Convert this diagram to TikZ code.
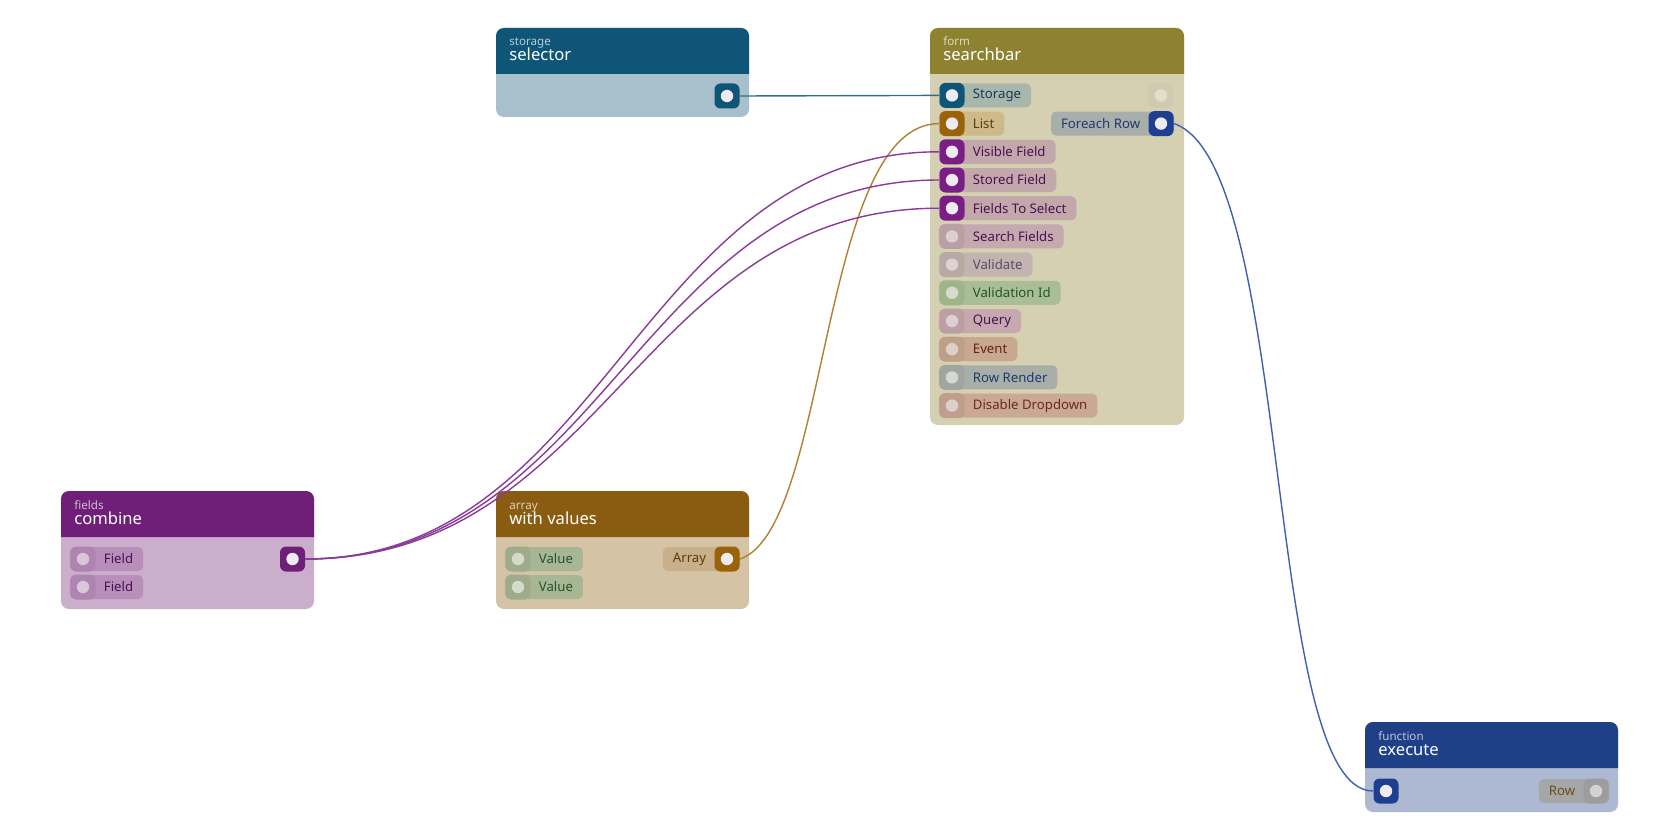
\documentclass[tikz,border=0pt]{standalone}
\usepackage{fontspec}
\setmainfont{Noto Sans}
\usetikzlibrary{positioning}
\definecolor{selhead}{HTML}{0E5578}\definecolor{selbody}{HTML}{A8BFCC}
\definecolor{formhead}{HTML}{8E8231}\definecolor{formbody}{HTML}{D5D0B1}
\definecolor{fldhead}{HTML}{6F1F78}\definecolor{fldbody}{HTML}{CBAECB}
\definecolor{arrhead}{HTML}{8A5C11}\definecolor{arrbody}{HTML}{D4C4A5}
\definecolor{funhead}{HTML}{1F3F87}\definecolor{funbody}{HTML}{ADB9D3}
\definecolor{pblue}{HTML}{0E5578}\definecolor{pgold}{HTML}{9A6209}
\definecolor{ppurple}{HTML}{7A1E85}\definecolor{pnavy}{HTML}{1E3F91}
\definecolor{dotc}{HTML}{F0EAF2}
\definecolor{wblue}{HTML}{2E6E90}\definecolor{wgold}{HTML}{B08030}
\definecolor{wpurple}{HTML}{8A3A98}\definecolor{wnavy}{HTML}{3F5FB0}
\tikzset{
  port/.style args={#1 and #2}{fill=#1, minimum size=12.5pt, inner sep=0pt,
    rounded corners=3pt, path picture={\fill[#2] (path picture bounding box.center) circle (3.1pt);}},
  pill/.style={minimum height=12pt, inner xsep=5pt, inner ysep=0pt, rounded corners=2.5pt,
    font=\fontsize{6.6}{7}\selectfont},
  wire/.style={#1, line width=0.7pt},
  cat/.style={anchor=base west, inner sep=0pt, font=\fontsize{5.8}{7}\selectfont},
  title/.style={anchor=base west, inner sep=0pt, text=white, font=\fontsize{8.3}{9}\selectfont},
}
% block: name, x1, y1, x2, y2, header bottom, head colour, body colour, category
\newcommand\block[9]{%
  \fill[#8, rounded corners=4pt] (#2,#3) rectangle (#4,#5);
  \fill[#7] (#2,#6) [rounded corners=4pt] -- (#2,#3) -- (#4,#3) [sharp corners] -- (#4,#6) -- cycle;
  \node[cat, text=white!70!#7] (#1-cat) at (#2+13,#3+18) {#9};
}
% pins: name, x, y, label, pill, text, port, dot (hex)
\newcommand\inpin[8]{%
  \definecolor{pinP}{HTML}{#5}\definecolor{pinT}{HTML}{#6}%
  \definecolor{pinC}{HTML}{#7}\definecolor{pinD}{HTML}{#8}%
  \node[pill, fill=pinP, text=pinT, anchor=west] (#1-pill) at (#2-13.5,#3) {\rule{12pt}{0pt}#4};
  \node[port={pinC and pinD}] (#1) at (#2,#3) {};
}
\newcommand\outpin[8]{%
  \definecolor{pinP}{HTML}{#5}\definecolor{pinT}{HTML}{#6}%
  \definecolor{pinC}{HTML}{#7}\definecolor{pinD}{HTML}{#8}%
  \node[pill, fill=pinP, text=pinT, anchor=east] (#1-pill) at (#2+13.5,#3) {#4\rule{12pt}{0pt}};
  \node[port={pinC and pinD}] (#1) at (#2,#3) {};
}
\begin{document}
\begin{tikzpicture}[x=0.5pt,y=-0.5pt]
\useasboundingbox (0,0) rectangle (1680,840);

\block{sel}{496}{28}{749}{117}{74}{selhead}{selbody}{storage}
\node[title] at (509,61) {selector};
\node[port={pblue and dotc}] (sel-out) at (727,96) {};

\block{sb}{930}{28}{1184}{425}{74}{formhead}{formbody}{form}
\node[title] at (943,61) {searchbar};
\inpin{sb-storage}{952}{95.4}{Storage}{A9B6AC}{153B54}{0E5578}{F0EAF2}
\inpin{sb-list}{952}{123.6}{List}{CDB98A}{5A3D0D}{9A6209}{F0EAF2}
\inpin{sb-visible}{952}{151.8}{Visible Field}{C3A8AB}{4A1055}{7A1E85}{F0EAF2}
\inpin{sb-stored}{952}{180}{Stored Field}{C3A8AB}{4A1055}{7A1E85}{F0EAF2}
\inpin{sb-select}{952}{208.2}{Fields To Select}{C3A8AB}{4A1055}{7A1E85}{F0EAF2}
\inpin{sb-search}{952}{236.4}{Search Fields}{C4AAAF}{4A1055}{BA9FA5}{DCCFD2}
\inpin{sb-validate}{952}{264.6}{Validate}{C2B4AE}{5C4A6E}{B8A9A4}{DCD2D0}
\inpin{sb-valid}{952}{292.8}{Validation Id}{A9BE94}{21562A}{9FB48B}{D5DCCB}
\inpin{sb-query}{952}{321}{Query}{C6A9AE}{4A1055}{BC9FA5}{DDD0D2}
\inpin{sb-event}{952}{349.2}{Event}{C8A88F}{6B1E1E}{BE9F87}{DDD0CA}
\inpin{sb-render}{952}{377.4}{Row Render}{A9AEA9}{1E3A6E}{A0A5A0}{D5D6D5}
\inpin{sb-disable}{952}{405.6}{Disable Dropdown}{C9A994}{6B2A1E}{BF9F8B}{DDD0CA}
\definecolor{sbfade}{HTML}{CFCAB0}\definecolor{sbfadedot}{HTML}{E2DED2}
\node[port={sbfade and sbfadedot}] (sb-out) at (1161,95.4) {};
\outpin{sb-foreach}{1161}{123.6}{Foreach Row}{A8AFAA}{1E3A6E}{1E3F91}{F0EAF2}

\block{cmb}{61}{491}{314}{609}{537}{fldhead}{fldbody}{fields}
\node[title] at (74,524) {combine};
\inpin{cmb-a}{83}{559}{Field}{B88FBB}{4A1055}{AE85B1}{D8C6D9}
\inpin{cmb-b}{83}{587}{Field}{B88FBB}{4A1055}{AE85B1}{D8C6D9}
\node[port={fldhead and dotc}] (cmb-out) at (292.5,559) {};

\block{arr}{496}{491}{749}{609}{537}{arrhead}{arrbody}{array}
\node[title] at (509,524) {with values};
\inpin{arr-a}{518}{559}{Value}{A9B696}{21562A}{9FAC8C}{D5DACB}
\inpin{arr-b}{518}{587}{Value}{A9B696}{21562A}{9FAC8C}{D5DACB}
\outpin{arr-out}{727}{559}{Array}{C9B08A}{5A3D0D}{9A6209}{F0EAF2}

\block{fn}{1365}{722}{1618}{812}{768}{funhead}{funbody}{function}
\node[title] at (1378,755) {execute};
\node[port={pnavy and dotc}] (fn-in) at (1386,791) {};
\outpin{fn-row}{1596}{791}{Row}{A5A6A8}{6B4E1A}{9C9D9F}{D3D3D3}

\draw[wire=wblue] (sel-out.east) -- (sb-storage.west);
\draw[wire=wgold] (arr-out.east) .. controls +(90,-30) and +(-120,0) .. (sb-list.west);
\draw[wire=wpurple] (cmb-out.east) .. controls +(300,0) and +(-300,0) .. (sb-visible.west);
\draw[wire=wpurple] (cmb-out.east) .. controls +(300,0) and +(-300,0) .. (sb-stored.west);
\draw[wire=wpurple] (cmb-out.east) .. controls +(300,0) and +(-300,0) .. (sb-select.west);
\draw[wire=wnavy] (sb-foreach.east) .. controls +(120,40) and +(-110,0) .. (fn-in.west);
\end{tikzpicture}
\end{document}
